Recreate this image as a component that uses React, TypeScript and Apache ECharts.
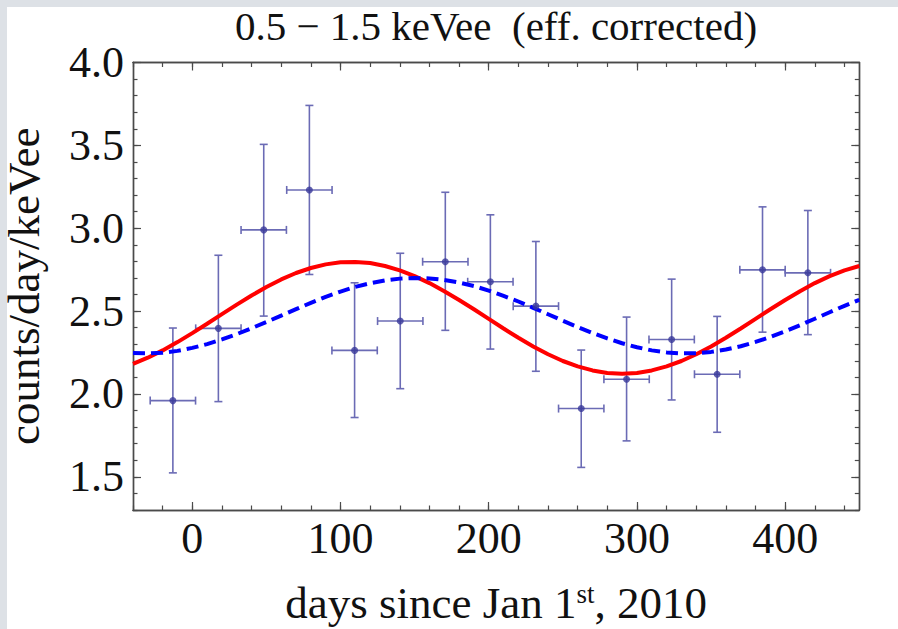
import React, { useEffect, useRef } from "react";
import * as echarts from "echarts";

// ---- data ----
const binCenters = [-13.1, 17.6, 48.2, 79.0, 109.5, 140.3, 170.7, 201.1, 231.8, 262.4, 293.0, 323.4, 354.1, 384.7, 415.3];
const rates = [1.96, 2.396, 2.99, 3.231, 2.263, 2.44, 2.798, 2.677, 2.53, 1.912, 2.089, 2.329, 2.119, 2.749, 2.731];
const rateLow = [1.524, 1.954, 2.47, 2.721, 1.858, 2.032, 2.384, 2.271, 2.137, 1.557, 1.717, 1.964, 1.769, 2.373, 2.358];
const rateHigh = [2.398, 2.837, 3.506, 3.741, 2.671, 2.849, 3.217, 3.081, 2.92, 2.265, 2.464, 2.693, 2.468, 3.129, 3.107];
const binHalfWidth = 15.3;

const curveDays = [-40, -30, -20, -10, 0, 10, 20, 30, 40, 50, 60, 70, 80, 90, 100, 110, 120, 130, 140, 150, 160, 170, 180, 190, 200, 210, 220, 230, 240, 250, 260, 270, 280, 290, 300, 310, 320, 330, 340, 350, 360, 370, 380, 390, 400, 410, 420, 430, 440, 450];
const redFit = [2.182, 2.219, 2.263, 2.313, 2.367, 2.424, 2.482, 2.539, 2.594, 2.645, 2.691, 2.73, 2.76, 2.782, 2.795, 2.797, 2.79, 2.772, 2.746, 2.711, 2.669, 2.62, 2.567, 2.511, 2.453, 2.395, 2.339, 2.287, 2.24, 2.199, 2.167, 2.142, 2.127, 2.1225, 2.127, 2.142, 2.167, 2.199, 2.24, 2.287, 2.339, 2.395, 2.453, 2.511, 2.567, 2.62, 2.669, 2.711, 2.746, 2.772];
const blueFit = [2.247, 2.245, 2.249, 2.26, 2.278, 2.301, 2.329, 2.361, 2.397, 2.434, 2.473, 2.512, 2.55, 2.586, 2.618, 2.646, 2.668, 2.685, 2.696, 2.7, 2.697, 2.688, 2.672, 2.651, 2.624, 2.592, 2.558, 2.52, 2.481, 2.442, 2.404, 2.368, 2.335, 2.306, 2.282, 2.263, 2.251, 2.245, 2.246, 2.254, 2.268, 2.288, 2.314, 2.344, 2.378, 2.415, 2.454, 2.493, 2.532, 2.568];

const xMajorTicks = [0, 100, 200, 300, 400];
const xMinorTicks = [-40, -20, 0, 20, 40, 60, 80, 100, 120, 140, 160, 180, 200, 220, 240, 260, 280, 300, 320, 340, 360, 380, 400, 420, 440];
const yMajorTicks = [1.5, 2.0, 2.5, 3.0, 3.5, 4.0];
const yMinorTicks = [1.3, 1.4, 1.5, 1.6, 1.7, 1.8, 1.9, 2.0, 2.1, 2.2, 2.3, 2.4, 2.5, 2.6, 2.7, 2.8, 2.9, 3.0, 3.1, 3.2, 3.3, 3.4, 3.5, 3.6, 3.7, 3.8, 3.9];

const titleText = "0.5 \u2212 1.5 keVee  (eff. corrected)";
const xName = "days since Jan 1{sup|st}, 2010";
const yName = "counts/day/keVee";

const FONT = '"Liberation Serif", "Times New Roman", serif';
const FRAME = "#4a4a4a";

export default function App() {
  const ref = useRef<HTMLDivElement>(null);
  useEffect(() => {
    if (!ref.current) return;
    const chart = echarts.init(ref.current, null, { renderer: "svg" });

    const axisLine = { show: true, onZero: false, lineStyle: { color: FRAME, width: 1.4 } };
    const mkX = (pos: "bottom" | "top", ticks: number[], len: number, labels: boolean) => ({
      type: "value",
      min: -40,
      max: 450,
      position: pos,
      axisLine,
      splitLine: { show: false },
      axisTick: { show: true, inside: true, length: len, customValues: ticks, lineStyle: { color: FRAME, width: 1.2 } },
      axisLabel: labels
        ? { show: true, customValues: xMajorTicks, fontSize: 44, color: "#111", fontFamily: FONT, margin: 6 }
        : { show: false },
    });
    const mkY = (pos: "left" | "right", ticks: number[], len: number, labels: boolean) => ({
      type: "value",
      min: 1.3,
      max: 4.0,
      position: pos,
      axisLine,
      splitLine: { show: false },
      axisTick: { show: true, inside: true, length: len, customValues: ticks, lineStyle: { color: FRAME, width: 1.2 } },
      axisLabel: labels
        ? {
            show: true,
            customValues: yMajorTicks,
            fontSize: 44,
            color: "#111",
            fontFamily: FONT,
            margin: 9,
            formatter: (v: number) => v.toFixed(1),
          }
        : { show: false },
    });

    const xAxes: any[] = [
      mkX("bottom", xMinorTicks, 4.5, false),
      {
        ...mkX("bottom", xMajorTicks, 8, true),
        name: xName,
        nameLocation: "middle",
        nameGap: 70,
        nameTextStyle: {
          fontSize: 45,
          color: "#111",
          fontFamily: FONT,
          rich: { sup: { fontSize: 27, color: "#111", fontFamily: FONT, verticalAlign: "top", padding: [0, 0, 18, 0] } },
        },
      },
      mkX("top", xMinorTicks, 4.5, false),
      mkX("top", xMajorTicks, 8, false),
    ];
    const yAxes: any[] = [
      mkY("left", yMinorTicks, 4.5, false),
      {
        ...mkY("left", yMajorTicks, 8, true),
        name: yName,
        nameLocation: "middle",
        nameGap: 88,
        nameTextStyle: { fontSize: 45, lineHeight: 42, color: "#111", fontFamily: FONT },
      },
      mkY("right", yMinorTicks, 4.5, false),
      mkY("right", yMajorTicks, 8, false),
    ];

    const errData = binCenters.map((x, i) => [x, rates[i], rateLow[i], rateHigh[i], binHalfWidth]);

    chart.setOption({
      animation: false,
      backgroundColor: "#ffffff",
      grid: { left: 133, top: 62.5, right: 38.7, bottom: 119, containLabel: false, outerBoundsMode: "none" },
      xAxis: xAxes,
      yAxis: yAxes,
      graphic: [
        { type: "rect", shape: { x: 0, y: 0, width: 898, height: 7 }, style: { fill: "#dde1e6" }, silent: true },
        { type: "rect", shape: { x: 0, y: 0, width: 7, height: 629 }, style: { fill: "#dde1e6" }, silent: true },
        {
          type: "text",
          x: 496,
          y: 26,
          style: {
            text: titleText,
            fill: "#111",
            font: `41px ${FONT}`,
            textAlign: "center",
            textVerticalAlign: "middle",
          },
        },
      ],
      series: [
        {
          type: "custom",
          xAxisIndex: 0,
          yAxisIndex: 0,
          data: errData,
          encode: { x: 0, y: 1 },
          z: 2,
          renderItem: (params: any, api: any) => {
            const x = api.value(0);
            const y = api.value(1);
            const lo = api.value(2);
            const hi = api.value(3);
            const hw = api.value(4);
            const pTop = api.coord([x, hi]);
            const pBot = api.coord([x, lo]);
            const pL = api.coord([x - hw, y]);
            const pR = api.coord([x + hw, y]);
            const cap = 4;
            const style = { stroke: "#6b6bb5", lineWidth: 1.6 };
            const ln = (x1: number, y1: number, x2: number, y2: number) => ({
              type: "line",
              shape: { x1, y1, x2, y2 },
              style,
            });
            return {
              type: "group",
              children: [
                ln(pTop[0], pTop[1], pBot[0], pBot[1]),
                ln(pTop[0] - cap, pTop[1], pTop[0] + cap, pTop[1]),
                ln(pBot[0] - cap, pBot[1], pBot[0] + cap, pBot[1]),
                ln(pL[0], pL[1], pR[0], pR[1]),
                ln(pL[0], pL[1] - cap, pL[0], pL[1] + cap),
                ln(pR[0], pR[1] - cap, pR[0], pR[1] + cap),
              ],
            };
          },
        },
        {
          type: "line",
          xAxisIndex: 0,
          yAxisIndex: 0,
          data: curveDays.map((d, i) => [d, redFit[i]]),
          smooth: false,
          showSymbol: false,
          z: 3,
          lineStyle: { color: "#ff0000", width: 4 },
        },
        {
          type: "line",
          xAxisIndex: 0,
          yAxisIndex: 0,
          data: curveDays.map((d, i) => [d, blueFit[i]]),
          smooth: false,
          showSymbol: false,
          z: 3,
          lineStyle: { color: "#0000ff", width: 4, type: [12, 6] },
        },
        {
          type: "scatter",
          xAxisIndex: 0,
          yAxisIndex: 0,
          data: binCenters.map((x, i) => [x, rates[i]]),
          symbolSize: 7,
          z: 4,
          itemStyle: { color: "#38389a" },
        },
      ],
    });
    return () => chart.dispose();
  }, []);
  return <div ref={ref} style={{ position: "fixed", left: 0, top: 0, width: 898, height: 629 }} />;
}
